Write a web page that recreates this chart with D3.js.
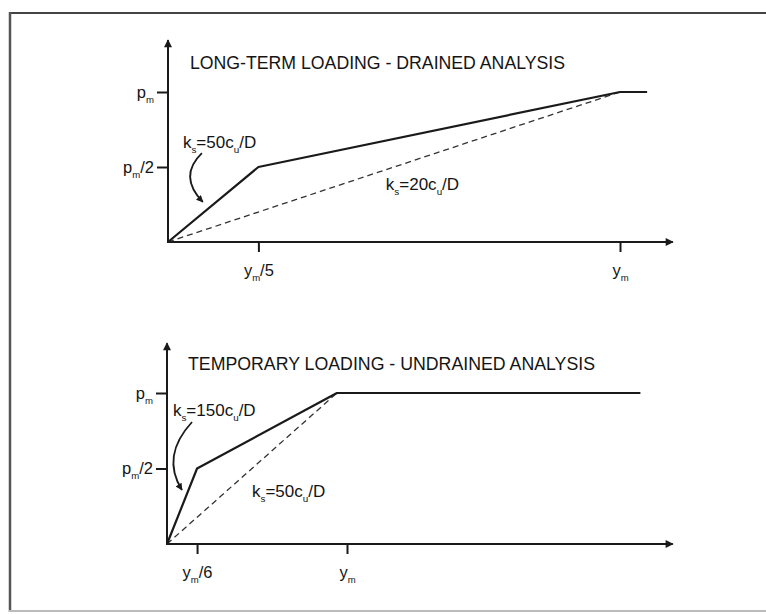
<!DOCTYPE html>
<html>
<head>
  <title>p-y curves</title>
  <style>
    body { margin: 0; background: #fff; }
    svg { display: block; background: #fff; }
    text { font-family: "Liberation Sans", Arial, sans-serif; fill: #141414; }
    .axis .domain { display: none; }
    .axis line { stroke: #1a1a1a; stroke-width: 2px; }
    .axis text { font-size: 16px; }
    .curve { fill: none; stroke: #1a1a1a; stroke-width: 2.2px; stroke-linejoin: round; }
    .dashed { fill: none; stroke: #333; stroke-width: 1.3px; stroke-dasharray: 6,4; }
    .arrowline { stroke: #1a1a1a; stroke-width: 2px; }
  </style>
</head>
<body>
  <svg width="766" height="614"></svg>

  <script src="https://d3js.org/d3.v7.min.js"></script>
  <script>
    // --- datos (unidades: y/ym , p/pm) ---
    // grafico superior: largo plazo, drenado
    const topCurve = [[0, 0], [0.2, 0.5], [1, 1], [1.06, 1]];
    const topDashed = [[0, 0], [1, 1]];
    const topXTicks = [0.2, 1];
    const topXLabels = ["y_m/5", "y_m"];
    const topYTicks = [0.5, 1];
    const topYLabels = ["p_m/2", "p_m"];
    const topTitle = "LONG-TERM LOADING - DRAINED ANALYSIS";
    const topLabels = ["k_s=50c_u/D", "k_s=20c_u/D"];

    // grafico inferior: temporal, no drenado
    const botCurve = [[0, 0], [0.167, 0.5], [0.944, 1], [2.63, 1]];
    const botDashed = [[0, 0], [0.944, 1]];
    const botXTicks = [0.167, 1];
    const botXLabels = ["y_m/6", "y_m"];
    const botYTicks = [0.5, 1];
    const botYLabels = ["p_m/2", "p_m"];
    const botTitle = "TEMPORARY LOADING - UNDRAINED ANALYSIS";
    const botLabels = ["k_s=150c_u/D", "k_s=50c_u/D"];

    const svg = d3.select("svg");

    // marcadores de flecha
    const defs = svg.append("defs");
    defs.append("marker")
      .attr("id", "head")
      .attr("viewBox", "0 0 10 10")
      .attr("refX", 9).attr("refY", 5)
      .attr("markerWidth", 10).attr("markerHeight", 8)
      .attr("markerUnits", "userSpaceOnUse")
      .attr("orient", "auto")
      .append("path").attr("d", "M0,0 L10,5 L0,10 Z").attr("fill", "#1a1a1a");
    defs.append("marker")
      .attr("id", "small")
      .attr("viewBox", "0 0 10 10")
      .attr("refX", 9).attr("refY", 5)
      .attr("markerWidth", 8).attr("markerHeight", 7)
      .attr("markerUnits", "userSpaceOnUse")
      .attr("orient", "auto")
      .append("path").attr("d", "M0,0 L10,5 L0,10 Z").attr("fill", "#1a1a1a");

    // marco de la figura
    svg.append("line").attr("x1", 9).attr("y1", 13).attr("x2", 766).attr("y2", 13)
      .attr("stroke", "#444").attr("stroke-width", 2);
    svg.append("line").attr("x1", 10).attr("y1", 12).attr("x2", 10).attr("y2", 612)
      .attr("stroke", "#555").attr("stroke-width", 2.5);
    svg.append("line").attr("x1", 9).attr("y1", 611).attr("x2", 766).attr("y2", 611)
      .attr("stroke", "#bbb").attr("stroke-width", 2);

    // texto con subindices: "k_s" -> k + s pequeña
    function richText(sel, str, size) {
      const parts = str.split(/_(.)/);
      let down = false;
      parts.forEach((p, i) => {
        if (p === "") return;
        const sub = i % 2 === 1;
        const t = sel.append("tspan").text(p);
        if (sub) {
          t.attr("font-size", size * 0.58).attr("dy", size * 0.3);
          down = true;
        } else {
          t.attr("font-size", size);
          if (down) { t.attr("dy", -size * 0.3); down = false; }
        }
      });
    }

    function drawPanel(cfg) {
      const x = d3.scaleLinear().domain([0, 1]).range(cfg.xr);
      const y = d3.scaleLinear().domain([0, 1]).range(cfg.yr);
      const g = svg.append("g");

      // ejes con flecha
      g.append("line").attr("class", "arrowline")
        .attr("x1", x(0) - 1).attr("y1", y(0)).attr("x2", x(cfg.xEnd)).attr("y2", y(0))
        .attr("marker-end", "url(#head)");
      g.append("line").attr("class", "arrowline")
        .attr("x1", x(0)).attr("y1", y(0) + 1).attr("x2", x(0)).attr("y2", y(cfg.yEnd))
        .attr("marker-end", "url(#head)");

      const xAxis = g.append("g").attr("class", "axis")
        .attr("transform", `translate(0,${y(0)})`)
        .call(d3.axisBottom(x).tickValues(cfg.xTicks).tickSize(10).tickPadding(13).tickFormat(""));
      xAxis.selectAll(".tick text").each(function(d, i) {
        richText(d3.select(this), cfg.xLabels[i], 16.5);
      });

      const yAxis = g.append("g").attr("class", "axis")
        .attr("transform", `translate(${x(0)},0)`)
        .call(d3.axisLeft(y).tickValues(cfg.yTicks).tickSize(11).tickPadding(3).tickFormat(""));
      yAxis.selectAll(".tick text").each(function(d, i) {
        richText(d3.select(this), cfg.yLabels[i], 16.5);
      });

      const line = d3.line().x(d => x(d[0])).y(d => y(d[1]));
      g.append("path").attr("class", "dashed").attr("d", line(cfg.dashed));
      g.append("path").attr("class", "curve").attr("d", line(cfg.curve));

      // titulo
      g.append("text")
        .attr("x", cfg.title.x).attr("y", cfg.title.y)
        .attr("font-size", 17.5)
        .attr("textLength", cfg.title.w).attr("lengthAdjust", "spacingAndGlyphs")
        .text(cfg.title.text);

      // etiquetas de rigidez
      cfg.labels.forEach(l => {
        const t = g.append("text").attr("x", x(l.at[0])).attr("y", y(l.at[1]));
        richText(t, l.text, 17);
      });

      // flecha curva
      const a = cfg.arrow;
      const p = d3.path();
      p.moveTo(x(a[0][0]), y(a[0][1]));
      p.quadraticCurveTo(x(a[1][0]), y(a[1][1]), x(a[2][0]), y(a[2][1]));
      g.append("path").attr("d", p.toString())
        .attr("fill", "none").attr("stroke", "#1a1a1a").attr("stroke-width", 1.8)
        .attr("marker-end", "url(#small)");
    }

    drawPanel({
      xr: [168, 620], yr: [242, 92], xEnd: 1.117, yEnd: 1.347,
      curve: topCurve, dashed: topDashed,
      xTicks: topXTicks, xLabels: topXLabels, yTicks: topYTicks, yLabels: topYLabels,
      title: { text: topTitle, x: 190, y: 69, w: 375 },
      labels: [
        { text: topLabels[0], at: [0.033, 0.627] },
        { text: topLabels[1], at: [0.482, 0.347] }
      ],
      arrow: [[0.075, 0.593], [0.022, 0.44], [0.077, 0.267]]
    });

    drawPanel({
      xr: [167, 347], yr: [544, 393], xEnd: 2.81, yEnd: 1.33,
      curve: botCurve, dashed: botDashed,
      xTicks: botXTicks, xLabels: botXLabels, yTicks: botYTicks, yLabels: botYLabels,
      title: { text: botTitle, x: 188, y: 370, w: 407 },
      labels: [
        { text: botLabels[0], at: [0.033, 0.847] },
        { text: botLabels[1], at: [0.472, 0.311] }
      ],
      arrow: [[0.139, 0.808], [-0.035, 0.582], [0.083, 0.358]]
    });
  </script>
</body>
</html>
